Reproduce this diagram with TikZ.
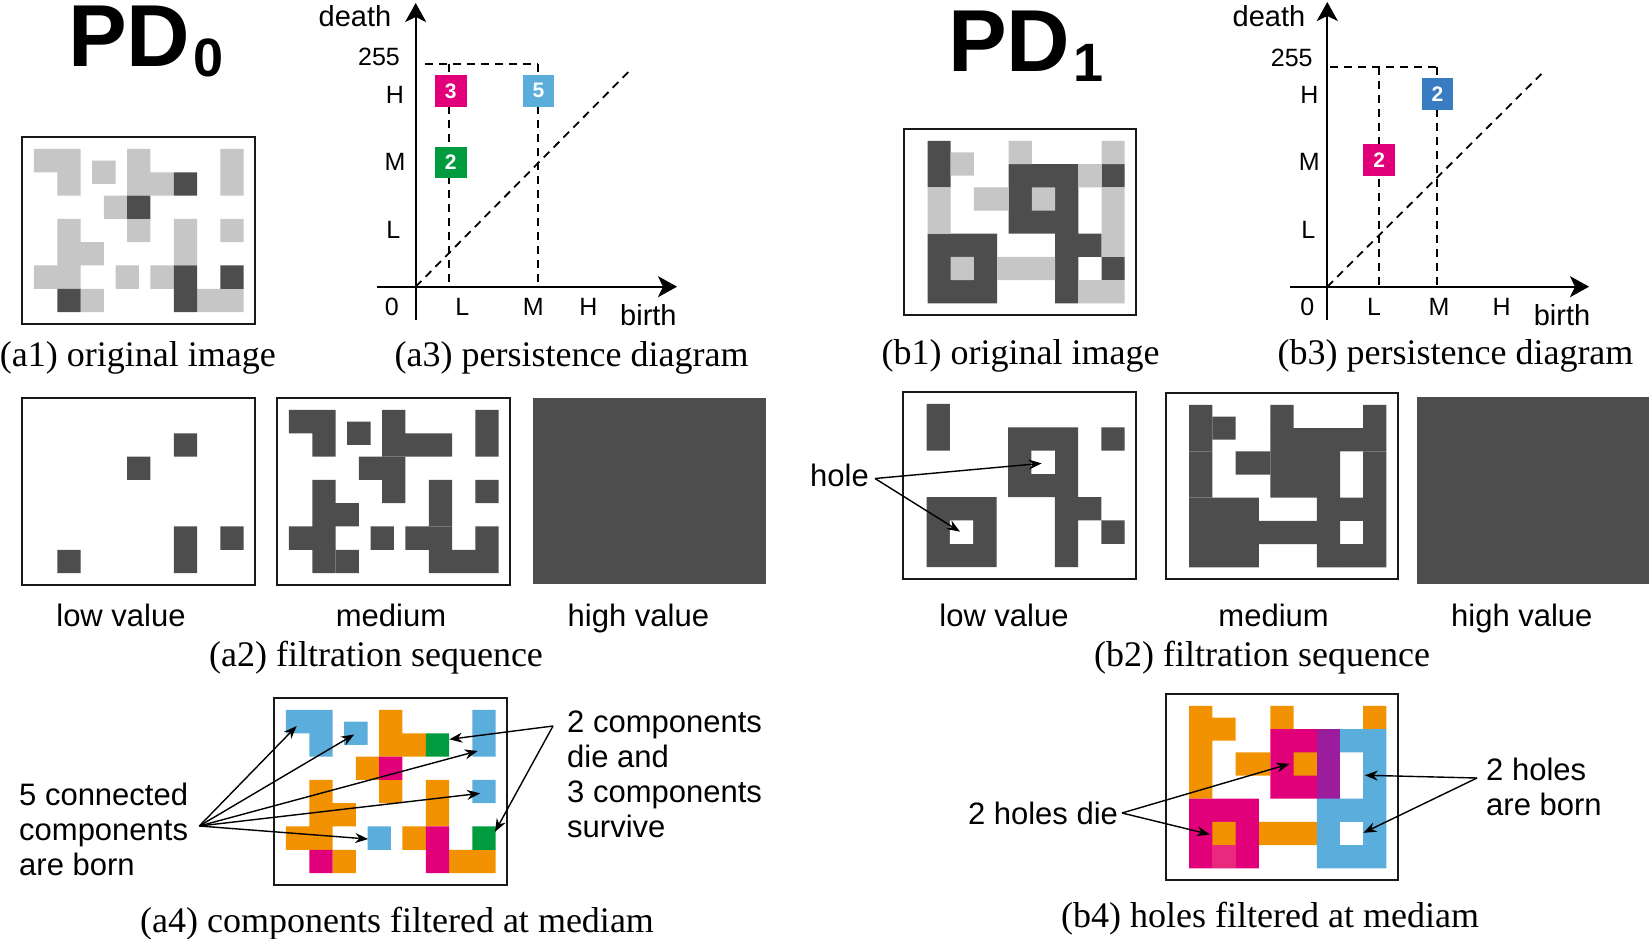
\documentclass[tikz,border=0pt]{standalone}
\usepackage{fontspec}
\setmainfont{Liberation Serif}
\setsansfont{Liberation Sans}
\usetikzlibrary{arrows.meta}
\definecolor{dgray}{HTML}{4D4D4D}
\definecolor{lgray}{HTML}{C6C6C6}
\definecolor{corange}{HTML}{F39200}
\definecolor{cmag}{HTML}{E2007A}
\definecolor{cpink}{HTML}{E8297D}
\definecolor{cpurple}{HTML}{9B1D9D}
\definecolor{cblue}{HTML}{5BAEDB}
\definecolor{cdblue}{HTML}{3A7CC1}
\definecolor{cgreen}{HTML}{009B3E}
\newcommand\ALight[1]{\fill[#1] (0.5,0.5) rectangle (2.5,1.5) (1.5,1.5) rectangle (2.5,2.5) (3,1) rectangle (4,2) (4.5,0.5) rectangle (5.5,2.5) (5.5,1.5) rectangle (6.5,2.5) (8.5,0.5) rectangle (9.5,2.5) (3.5,2.5) rectangle (4.5,3.5) (4.5,3.5) rectangle (5.5,4.5) (1.5,3.5) rectangle (2.5,6.5) (2.5,4.5) rectangle (3.5,5.5) (0.5,5.5) rectangle (1.5,6.5) (2.5,6.5) rectangle (3.5,7.5) (4,5.5) rectangle (5,6.5) (5.5,5.5) rectangle (6.5,6.5) (6.5,3.5) rectangle (7.5,5.5) (8.5,3.5) rectangle (9.5,4.5) (7.5,6.5) rectangle (9.5,7.5);}
\newcommand\ADark[1]{\fill[#1] (6.5,1.5) rectangle (7.5,2.5) (4.5,2.5) rectangle (5.5,3.5) (1.5,6.5) rectangle (2.5,7.5) (6.5,5.5) rectangle (7.5,7.5) (8.5,5.5) rectangle (9.5,6.5);}
\newcommand\BDark[1]{\fill[#1] (1,0.5) rectangle (2,2.5) (4.5,1.5) rectangle (7.5,4.5) (8.5,1.5) rectangle (9.5,2.5) (1,4.5) rectangle (4,7.5) (6.5,4.5) rectangle (7.5,7.5) (7.5,4.5) rectangle (8.5,5.5) (8.5,5.5) rectangle (9.5,6.5);}
\newcommand\BInner[1]{\fill[#1] (5.5,2.5) rectangle (6.5,3.5) (2,5.5) rectangle (3,6.5);}
\newcommand\BLight[1]{\fill[#1] (2,1) rectangle (3,2) (4.5,0.5) rectangle (5.5,1.5) (8.5,0.5) rectangle (9.5,1.5) (7.5,1.5) rectangle (8.5,2.5) (1,2.5) rectangle (2,4.5) (3,2.5) rectangle (4.5,3.5) (8.5,2.5) rectangle (9.5,5.5) (4,5.5) rectangle (6.5,6.5) (7.5,6.5) rectangle (9.5,7.5);}
\begin{document}
\begin{tikzpicture}[x=1pt,y=-1pt,
  imgframe/.style={draw=black!90, line width=2.2pt},
  captxt/.style={font=\fontsize{36}{40}\selectfont, inner sep=0pt},
  labtxt/.style={font=\sffamily\fontsize{31}{35}\selectfont, inner sep=0pt},
  ticklab/.style={font=\sffamily\fontsize{25}{28}\selectfont, inner sep=0pt},
  axlab/.style={font=\sffamily\fontsize{29}{32}\selectfont, inner sep=0pt},
  axisline/.style={line width=2.3pt, -{Stealth[length=19pt,width=21pt,inset=5pt]}},
  dshline/.style={line width=1.8pt, dash pattern=on 8pt off 6pt},
  ptarrow/.style={line width=1.4pt, -{Stealth[length=13pt,width=10pt]}},
  ptbox/.style={minimum size=31.5pt, inner sep=0pt, text=white, font=\sffamily\bfseries\fontsize{21}{21}\selectfont},
  ttl/.style={font=\sffamily\bfseries\fontsize{88}{88}\selectfont, inner sep=0pt, anchor=base west, text height=60pt}
]
\useasboundingbox[fill=white] (0,0) rectangle (1649,939);

% titles
\node[ttl] (pd0) at (68,67) {PD\kern3pt\raisebox{-10pt}{\fontsize{54}{54}\selectfont 0}};
\node[ttl] (pd1) at (948,72) {PD\kern3pt\raisebox{-10pt}{\fontsize{54}{54}\selectfont 1}};

% ---------- a1
\begin{scope}[shift={(22.3,137.3)}, x=23.3pt, y=-23.3pt]
  \ALight{lgray}\ADark{dgray}
  \draw[imgframe] (0,0) rectangle (10,8);
\end{scope}
% ---------- a2 low
\begin{scope}[shift={(22.3,398.3)}, x=23.3pt, y=-23.3pt]
  \ADark{dgray}
  \draw[imgframe] (0,0) rectangle (10,8);
\end{scope}
% ---------- a2 medium
\begin{scope}[shift={(277.3,398.3)}, x=23.3pt, y=-23.3pt]
  \ALight{dgray}\ADark{dgray}
  \draw[imgframe] (0,0) rectangle (10,8);
\end{scope}
% ---------- a2 high
\fill[dgray] (533,398) rectangle (766,584);
% ---------- a4
\begin{scope}[shift={(274.3,698.3)}, x=23.3pt, y=-23.3pt]
  \fill[cblue] (0.5,0.5) rectangle (2.5,1.5) (1.5,1.5) rectangle (2.5,2.5) (3,1) rectangle (4,2) (8.5,0.5) rectangle (9.5,2.5) (4,5.5) rectangle (5,6.5) (8.5,3.5) rectangle (9.5,4.5);
  \fill[corange] (4.5,0.5) rectangle (5.5,2.5) (5.5,1.5) rectangle (6.5,2.5) (3.5,2.5) rectangle (4.5,3.5) (4.5,3.5) rectangle (5.5,4.5) (1.5,3.5) rectangle (2.5,6.5) (2.5,4.5) rectangle (3.5,5.5) (0.5,5.5) rectangle (1.5,6.5) (2.5,6.5) rectangle (3.5,7.5) (5.5,5.5) rectangle (6.5,6.5) (6.5,3.5) rectangle (7.5,5.5) (7.5,6.5) rectangle (9.5,7.5);
  \fill[cgreen] (6.5,1.5) rectangle (7.5,2.5) (8.5,5.5) rectangle (9.5,6.5);
  \fill[cmag] (4.5,2.5) rectangle (5.5,3.5) (1.5,6.5) rectangle (2.5,7.5) (6.5,5.5) rectangle (7.5,7.5);
  \draw[imgframe] (0,0) rectangle (10,8);
  \coordinate (t1) at (0.96,1.19);
  \coordinate (t2) at (3.43,1.55);
  \coordinate (t3) at (8.73,2.26);
  \coordinate (t4) at (8.83,4.08);
  \coordinate (t5) at (4.03,6.04);
  \coordinate (g1) at (7.51,1.76);
  \coordinate (g2) at (9.47,5.73);
\end{scope}
% ---------- b1
\begin{scope}[shift={(904.3,129.3)}, x=23.2pt, y=-23.2pt]
  \BDark{dgray}\BInner{lgray}\BLight{lgray}
  \draw[imgframe] (0,0) rectangle (10,8);
\end{scope}
% ---------- b2 low
\begin{scope}[shift={(903.3,392.3)}, x=23.3pt, y=-23.3pt]
  \BDark{dgray}\BInner{white}
  \draw[imgframe] (0,0) rectangle (10,8);
  \coordinate (h1) at (5.94,3.05);
  \coordinate (h2) at (2.43,5.98);
\end{scope}
% ---------- b2 medium
\begin{scope}[shift={(1166,393.3)}, x=23.2pt, y=-23.2pt]
  \BDark{dgray}\BLight{dgray}
  \draw[imgframe] (0,0) rectangle (10,8);
\end{scope}
% ---------- b2 high
\fill[dgray] (1416.6,396.5) rectangle (1649,584);
% ---------- b4
\begin{scope}[shift={(1166,694.3)}, x=23.2pt, y=-23.2pt]
  \fill[corange] (1,0.5) rectangle (2,4.5) (2,1) rectangle (3,2) (3,2.5) rectangle (4.5,3.5) (4.5,0.5) rectangle (5.5,1.5) (8.5,0.5) rectangle (9.5,1.5) (4,5.5) rectangle (6.5,6.5);
  \fill[cmag] (4.5,1.5) rectangle (6.5,4.5) (1,4.5) rectangle (4,7.5);
  \fill[cpurple] (6.5,1.5) rectangle (7.5,4.5);
  \fill[cblue] (7.5,1.5) rectangle (9.5,2.5) (8.5,2.5) rectangle (9.5,4.5) (6.5,4.5) rectangle (9.5,7.5);
  \fill[white] (7.5,5.5) rectangle (8.5,6.5);
  \fill[corange] (5.5,2.5) rectangle (6.5,3.5) (2,5.5) rectangle (3,6.5);
  \fill[cpink] (2,6.5) rectangle (3,7.5);
  \draw[imgframe] (0,0) rectangle (10,8);
  \coordinate (d1) at (5.32,3.0);
  \coordinate (d2) at (1.89,6.04);
  \coordinate (bo1) at (8.57,3.49);
  \coordinate (bo2) at (8.51,5.97);
\end{scope}

% ---------- a3 persistence diagram
\draw[dshline] (425,64.3) -- (538.3,64.3);
\draw[dshline] (449.3,64.3) -- (449.3,286.7);
\draw[dshline] (538.3,64.3) -- (538.3,286.7);
\draw[dshline] (415.7,286.7) -- (628.3,72);
\draw[axisline] (376.7,286.7) -- (677,286.7);
\draw[axisline] (415.7,320) -- (415.7,3);
\node[ptbox, fill=cmag] (a3p3) at (450.8,90.8) {3};
\node[ptbox, fill=cblue] (a3p5) at (538.5,90.8) {5};
\node[ptbox, fill=cgreen] (a3p2) at (450.8,162.5) {2};
\node[ticklab] (a3zero) at (391.7,306.7) {0};
\node[ticklab] (a3xl) at (462.3,306.7) {L};
\node[ticklab] (a3xm) at (533.3,306.7) {M};
\node[ticklab] (a3xh) at (588.3,306.7) {H};
\node[ticklab] (a3top) at (379,56.7) {255};
\node[ticklab] (a3yh) at (395,95) {H};
\node[ticklab] (a3ym) at (395,161.7) {M};
\node[ticklab] (a3yl) at (393.3,230) {L};
\node[axlab] (a3birth) at (648.4,315) {birth};
\node[axlab] (a3death) at (355,16) {death};

% ---------- b3 persistence diagram
\draw[dshline] (1330,66.7) -- (1436.7,66.7);
\draw[dshline] (1379,66.7) -- (1379,286.7);
\draw[dshline] (1436.7,66.7) -- (1436.7,286.7);
\draw[dshline] (1327.3,286.7) -- (1543.3,72);
\draw[axisline] (1290,286.7) -- (1589,286.7);
\draw[axisline] (1327.3,320) -- (1327.3,2);
\node[ptbox, fill=cdblue] (b3p2a) at (1437.5,94.2) {2};
\node[ptbox, fill=cmag] (b3p2b) at (1379.2,159.8) {2};
\node[ticklab] (b3zero) at (1307.3,306.7) {0};
\node[ticklab] (b3xl) at (1374,306.7) {L};
\node[ticklab] (b3xm) at (1439,306.7) {M};
\node[ticklab] (b3xh) at (1501.7,306.7) {H};
\node[ticklab] (b3top) at (1291.7,58.3) {255};
\node[ticklab] (b3yh) at (1309.3,95) {H};
\node[ticklab] (b3ym) at (1309.3,161.7) {M};
\node[ticklab] (b3yl) at (1308.3,230) {L};
\node[axlab] (b3birth) at (1562,315) {birth};
\node[axlab] (b3death) at (1269,16) {death};

% ---------- captions
\node[captxt] (ca1) at (137.8,357.4) {(a1) original image};
\node[captxt] (ca3) at (571.6,357.4) {(a3) persistence diagram};
\node[captxt] (cb1) at (1020.6,356) {(b1) original image};
\node[captxt] (cb3) at (1455.5,356) {(b3) persistence diagram};
\node[captxt] (ca2) at (376,658) {(a2) filtration sequence};
\node[captxt] (cb2) at (1262,658) {(b2) filtration sequence};
\node[captxt] (ca4) at (397,924) {(a4) components filtered at mediam};
\node[captxt] (cb4) at (1270,919) {(b4) holes filtered at mediam};

% ---------- labels
\node[labtxt, anchor=base] (alow) at (121,626) {low value};
\node[labtxt, anchor=base] (amed) at (391,626) {medium};
\node[labtxt, anchor=base] (ahigh) at (638.4,626) {high value};
\node[labtxt, anchor=base] (blow) at (1004,626) {low value};
\node[labtxt, anchor=base] (bmed) at (1273.6,626) {medium};
\node[labtxt, anchor=base] (bhigh) at (1521.8,626) {high value};

\node[labtxt, align=left, anchor=west] (txtA) at (19,829) {5 connected\\components\\are born};
\node[labtxt, align=left, anchor=west] (txtR) at (567,774) {2 components\\die and\\3 components\\survive};
\node[labtxt] (txtHole) at (839.5,475) {hole};
\node[labtxt] (txtDie) at (1043,813) {2 holes die};
\node[labtxt, align=left, anchor=west] (txtBorn) at (1486,787) {2 holes\\are born};

% ---------- connectors
\coordinate (hubA) at (199.3,826);
\coordinate (hubR) at (553,726);
\coordinate (hubH) at (875,478.5);
\coordinate (hubD) at (1122,813);
\coordinate (hubB) at (1477,778);
\foreach \t in {t1,t2,t3,t4,t5} \draw[ptarrow] (hubA) -- (\t);
\foreach \t in {g1,g2} \draw[ptarrow] (hubR) -- (\t);
\foreach \t in {h1,h2} \draw[ptarrow] (hubH) -- (\t);
\foreach \t in {d1,d2} \draw[ptarrow] (hubD) -- (\t);
\foreach \t in {bo1,bo2} \draw[ptarrow] (hubB) -- (\t);
\end{tikzpicture}
\end{document}
